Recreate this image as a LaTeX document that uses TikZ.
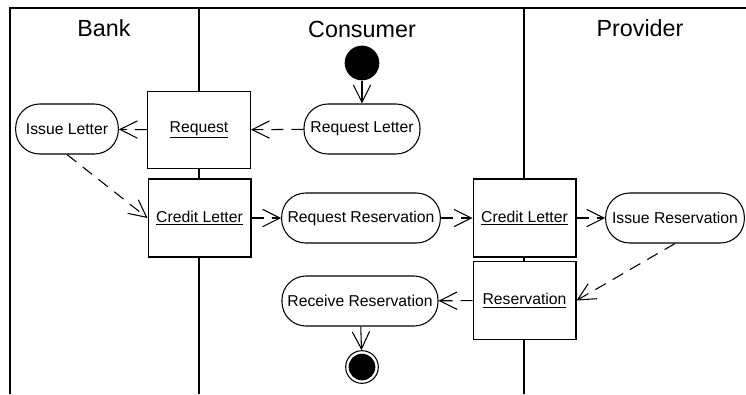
\documentclass[tikz,border=0pt]{standalone}
\usepackage{fontspec}
\setmainfont{Liberation Sans}
\usetikzlibrary{arrows.meta}
\begin{document}
\begin{tikzpicture}[x=0.75pt,y=-0.75pt,
  lane/.style={line width=1.2pt},
  lanetitle/.style={font=\fontsize{17.5}{20}\selectfont},
  act/.style={draw, line width=0.8pt, rounded corners=18pt, minimum height=37.5pt,
    inner sep=0pt, fill=white, font=\fontsize{11.8}{14}\selectfont},
  obj/.style={draw, line width=1pt, minimum width=77pt, minimum height=58.5pt,
    inner sep=0pt, fill=white, font=\fontsize{11.8}{14}\selectfont},
  flow/.style={line width=0.8pt, -{Straight Barb[length=13pt,width=13pt]}},
  objflow/.style={flow, dash pattern=on 9pt off 6pt}
]
\useasboundingbox (0,0) rectangle (746,394);

% swimlane frame
\draw[lane] (10,394) -- (10,8) -- (746,8);
\draw[lane] (199,8) -- (199,394);
\draw[lane] (524,8) -- (524,394);

\node[lanetitle] (tbank) at (104,28) {Bank};
\node[lanetitle] (tcons) at (362,29) {Consumer};
\node[lanetitle] (tprov) at (640,28) {Provider};

% initial and final states
\node[circle, fill=black, minimum size=26pt, inner sep=0pt] (start) at (362,63) {};
\node[circle, draw, line width=0.8pt, minimum size=24.5pt, inner sep=0pt] (final) at (362,367) {};
\fill (final.center) circle (10pt);

% actions
\node[act, minimum width=77pt]  (issueletter) at (67,129)  {Issue Letter};
\node[act, minimum width=87pt]  (reqletter)   at (362,129) {Request Letter};
\node[act, minimum width=119pt] (reqres)      at (361,218) {Request Reservation};
\node[act, minimum width=104pt] (issueres)    at (675,218) {Issue Reservation};
\node[act, minimum width=117pt] (recvres)     at (360,301) {Receive Reservation};

% objects
\node[obj, minimum height=57.5pt] (request)  at (199,130)   {\underline{Request}};
\node[obj] (credbank) at (199.5,218) {\underline{Credit Letter}};
\node[obj] (credprov) at (524.5,218) {\underline{Credit Letter}};
\node[obj] (reserv)   at (524.5,300.5) {\underline{Reservation}};

% flows
\draw[flow] (start) -- (reqletter);
\draw[objflow] (reqletter) -- (request);
\draw[objflow] (request) -- (issueletter);
\draw[objflow] (issueletter.south) -- (credbank.west);
\draw[objflow] (credbank) -- (reqres);
\draw[objflow] (reqres) -- (credprov);
\draw[objflow] (credprov) -- (issueres);
\draw[objflow] (issueres.south) -- (reserv.east);
\draw[objflow] (reserv) -- (recvres);
\draw[flow] (recvres) -- (final);
\end{tikzpicture}
\end{document}
